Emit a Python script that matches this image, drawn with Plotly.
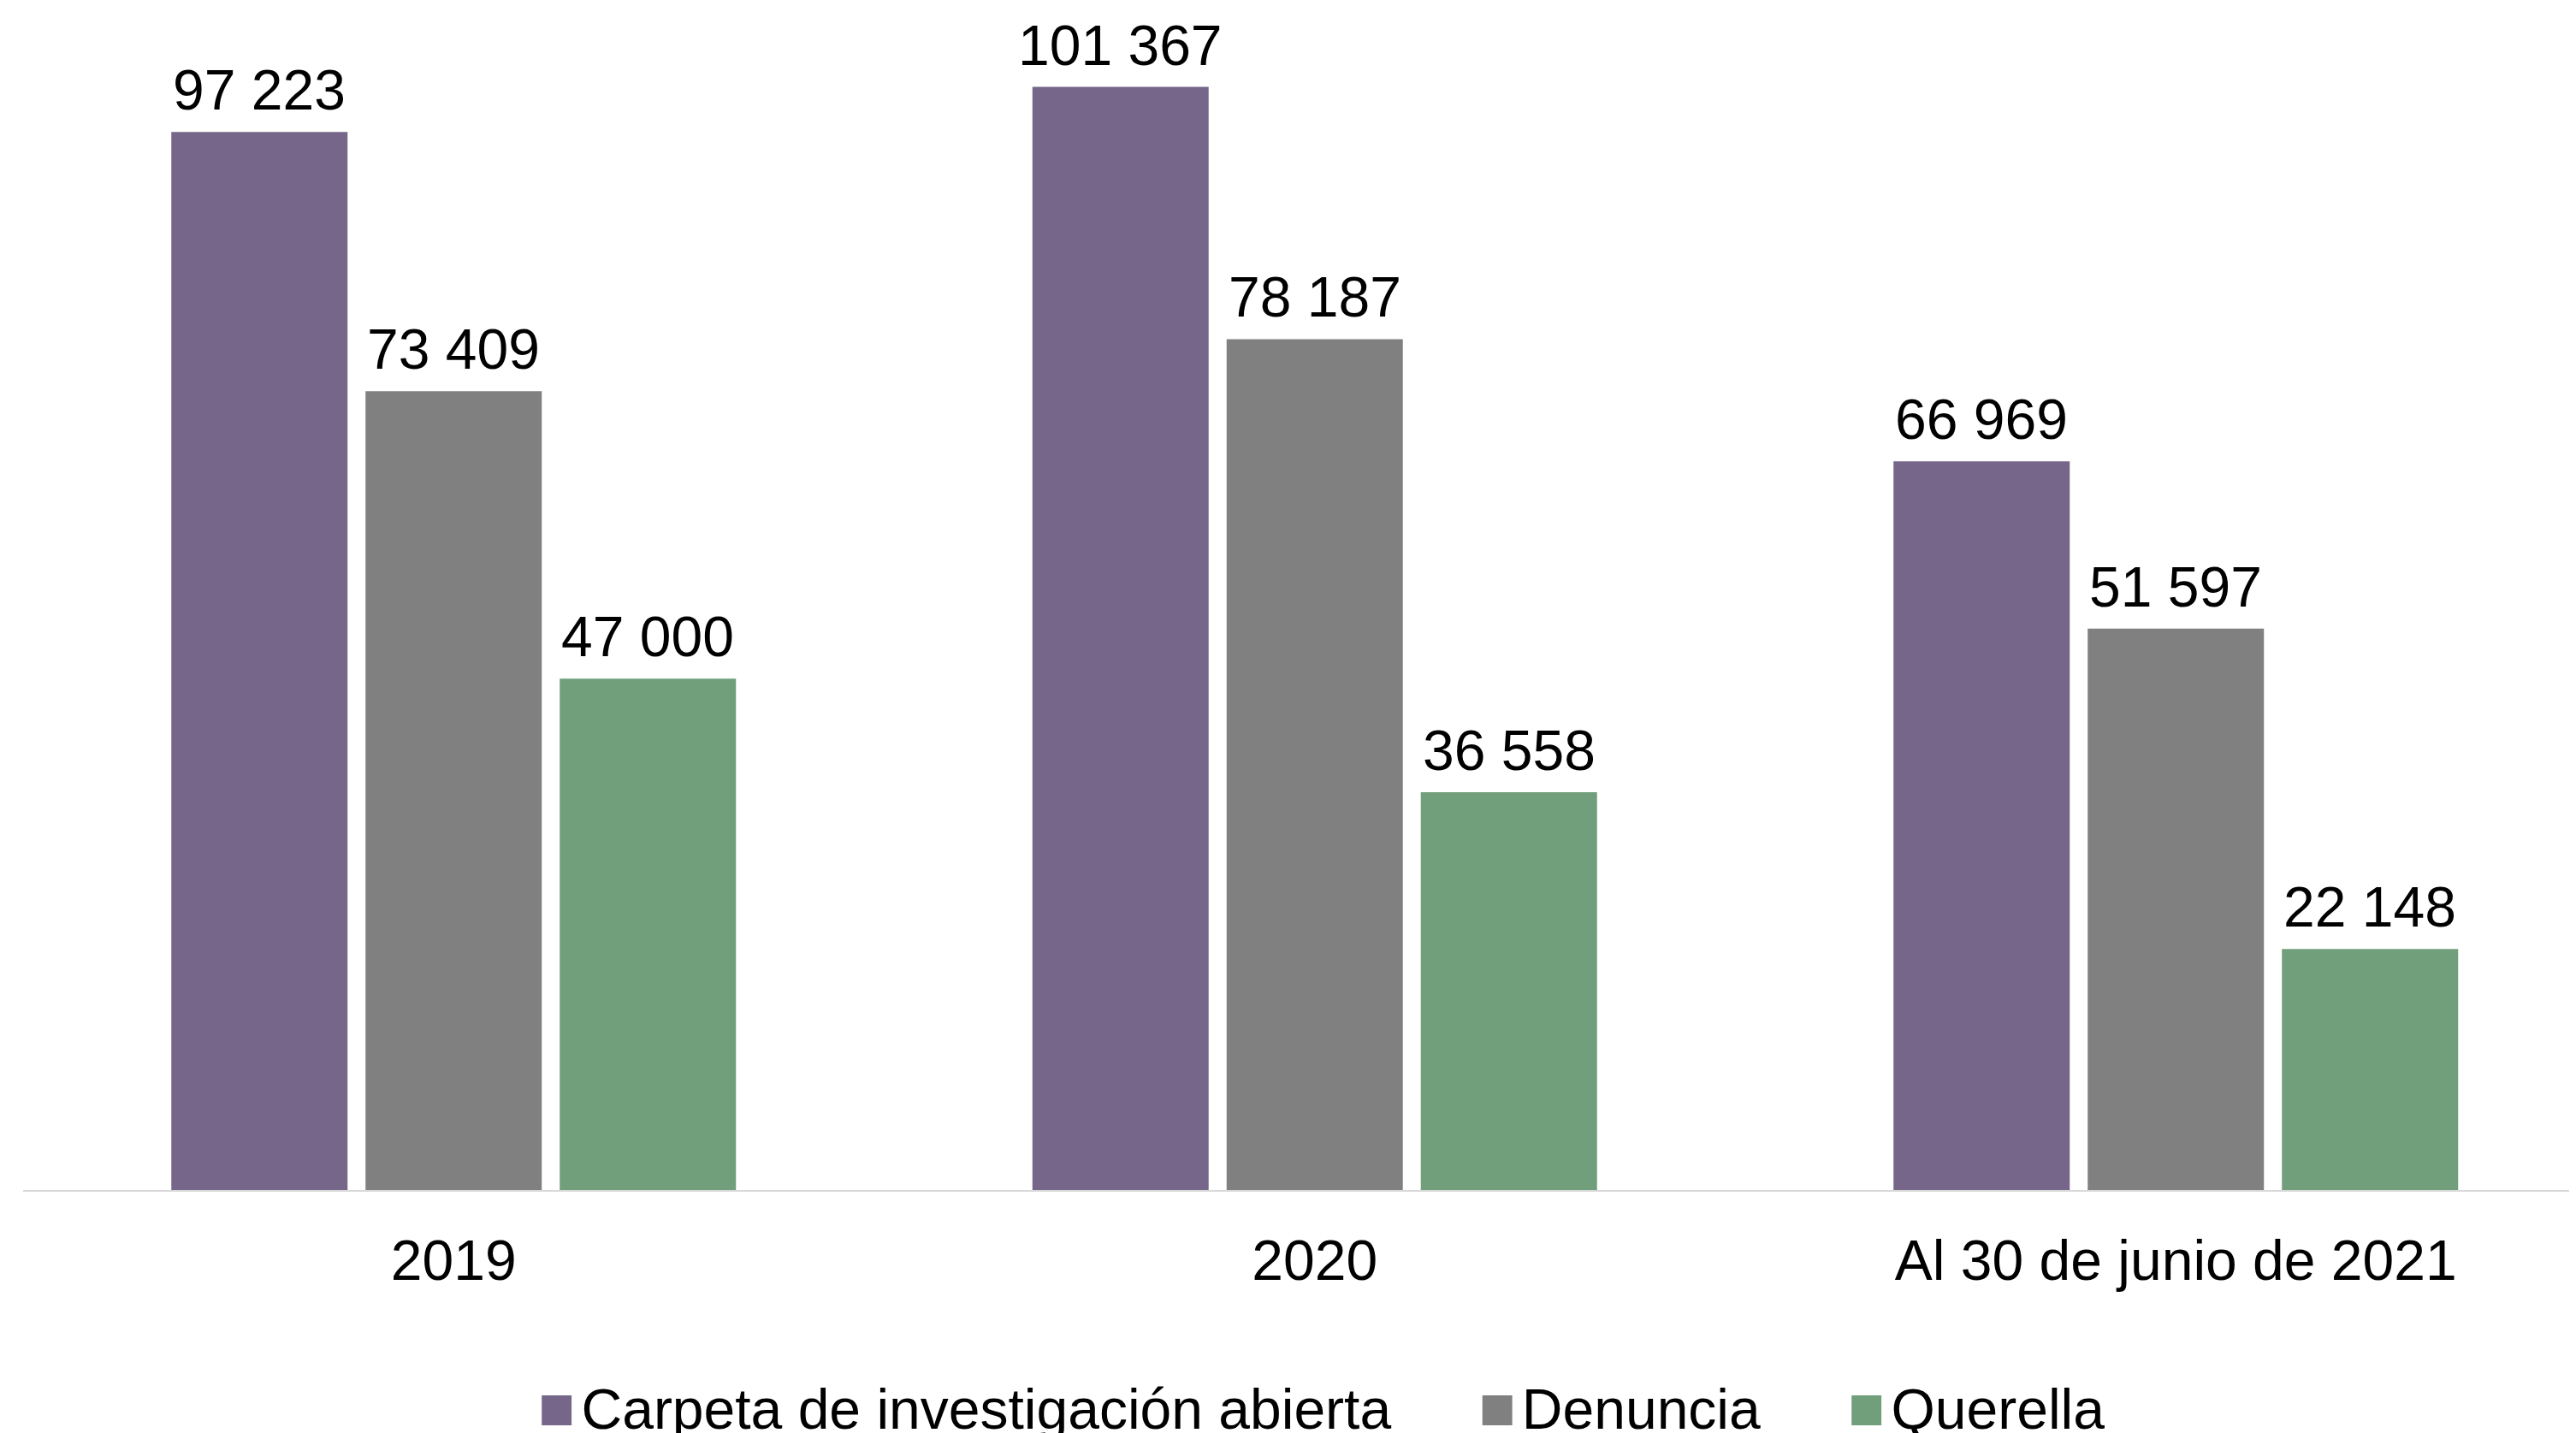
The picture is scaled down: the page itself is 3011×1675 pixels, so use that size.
import plotly.graph_objects as go

# categorias y series
periodos = ['2019', '2020', 'Al 30 de junio de 2021']
carpeta = [97223, 101367, 66969]
denuncia = [73409, 78187, 51597]
querella = [47000, 36558, 22148]

series = [
    ('Carpeta de investigación abierta', carpeta, '#76678A'),
    ('Denuncia', denuncia, '#808080'),
    ('Querella', querella, '#719F7B'),
]

FONT = 'Liberation Sans, Arial, sans-serif'
SLOT = 227  # ancho de cada barra + hueco, en px (solo para centrar las etiquetas)

fig = go.Figure()
for i, (name, values, color) in enumerate(series):
    fig.add_trace(go.Bar(
        x=periodos, y=values, name=name,
        marker=dict(color=color, line=dict(width=0)),
        showlegend=False, hoverinfo='skip',
    ))
    # etiquetas de valor (x por indice de categoria: '2019' se leeria como numero)
    for j, v in enumerate(values):
        fig.add_annotation(
            x=j, y=v, text=f'{v:,}'.replace(',', ' '),
            showarrow=False, yanchor='bottom', yshift=10, xshift=(i - 1) * SLOT,
            font=dict(family=FONT, size=66, color='black'),
        )

# entradas de leyenda con cuadros grandes
for name, values, color in series:
    fig.add_trace(go.Scatter(
        x=[None], y=[None], mode='markers',
        marker=dict(color='rgba(0,0,0,0)', size=1),
        name=('<span style="color:%s;font-size:72px">■</span>'
              '<span style="font-size:25px">\u00a0</span>%s') % (color, name),
        showlegend=True,
    ))

fig.update_layout(
    width=3011, height=1675,
    margin=dict(l=19, r=0, t=0, b=292, autoexpand=False),
    paper_bgcolor='white', plot_bgcolor='white',
    barmode='group', bargap=0.3234, bargroupgap=0.0925,
    font=dict(family=FONT, size=66, color='black'),
    legend=dict(orientation='h', xanchor='center', x=0.492, yanchor='top', y=-0.1475,
                font=dict(family=FONT, size=66, color='black'),
                itemwidth=87, bgcolor='rgba(0,0,0,0)'),
    xaxis=dict(range=[-0.5, 2.4727], showline=True, linecolor='#D9D9D9', linewidth=2,
               ticks='outside', ticklen=24, tickcolor='rgba(0,0,0,0)',
               tickfont=dict(family=FONT, size=66, color='black'), showgrid=False),
    yaxis=dict(range=[0, 108726], visible=False, showgrid=False),
)

fig.write_html('out.html')
